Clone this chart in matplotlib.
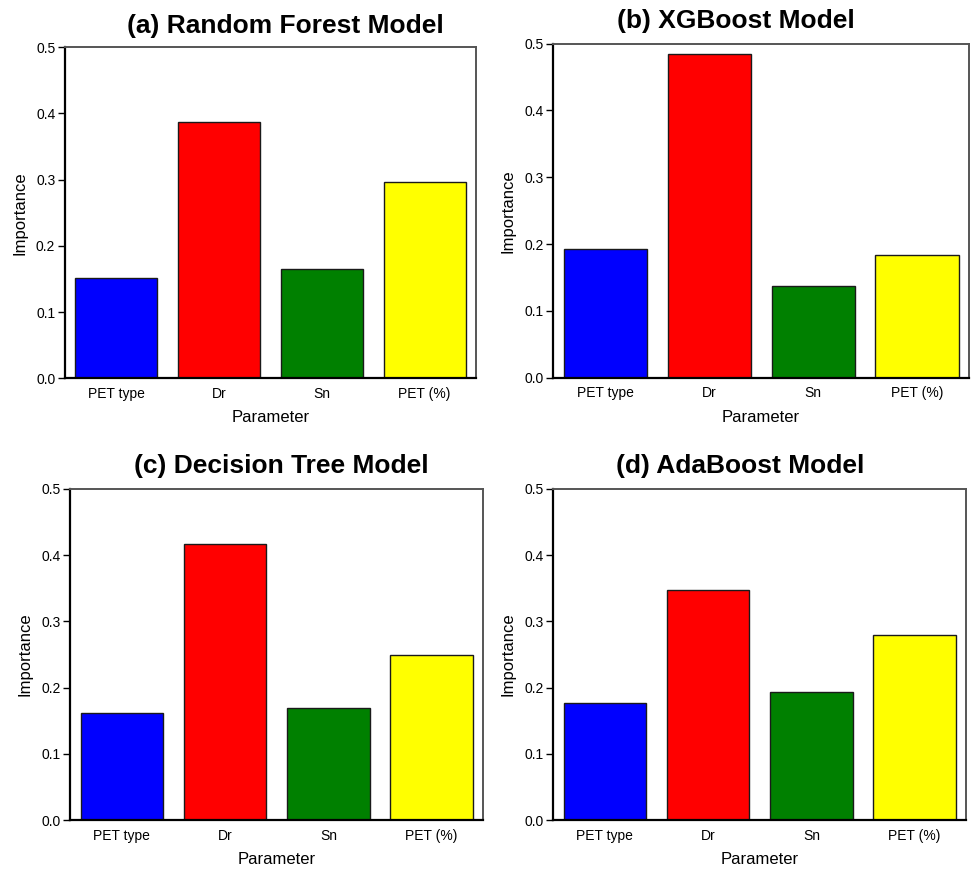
import matplotlib
matplotlib.use("Agg")
import matplotlib.pyplot as plt

plt.rcParams['font.family'] = ['Liberation Sans', 'DejaVu Sans']

categories = ["PET type", "Dr", "Sn", "PET (%)"]
colors = ["#0000ff", "#ff0000", "#008000", "#ffff00"]

rf_values = [0.151, 0.387, 0.165, 0.296]
xgb_values = [0.192, 0.484, 0.138, 0.183]
dt_values = [0.162, 0.417, 0.169, 0.249]
ada_values = [0.177, 0.348, 0.193, 0.279]

titles = ["(a) Random Forest Model", "(b) XGBoost Model",
          "(c) Decision Tree Model", "(d) AdaBoost Model"]
yticks = [0.0, 0.1, 0.2, 0.3, 0.4, 0.5]

W, H = 971, 872
fig = plt.figure(figsize=(W / 100, H / 100), dpi=100)

# axes boxes in pixels: left, right, top, bottom
boxes = [(65, 476, 47.3, 378.3),
         (553.3, 969, 43.7, 377.7),
         (70.3, 483.3, 488.7, 820.3),
         (553.3, 966.3, 488.7, 820.3)]
title_x = [0.537, 0.44, 0.512, 0.453]
title_pad = [10.5, 11.5, 11.5, 11]

data = [rf_values, xgb_values, dt_values, ada_values]

for i, (vals, box) in enumerate(zip(data, boxes)):
    l, r, t, b = box
    ax = fig.add_axes([l / W, 1 - b / H, (r - l) / W, (b - t) / H])
    x = list(range(len(categories)))
    ax.bar(x, vals, width=0.8, color=colors, edgecolor="#1a1a1a", linewidth=1.0, zorder=2)
    ax.set_xlim(-0.5, 3.5)
    ax.set_ylim(0, 0.5)
    ax.set_yticks(yticks)
    ax.set_yticklabels([f"{v:.1f}" for v in yticks])
    ax.set_xticks(x)
    ax.set_xticklabels(categories)
    ax.tick_params(axis='y', direction='out', length=5, width=1, labelsize=10, pad=2, colors='black')
    ax.tick_params(axis='x', length=0, labelsize=10, pad=6)
    for s in ['left', 'bottom']:
        ax.spines[s].set_color('black')
        ax.spines[s].set_linewidth(1.6)
    for s in ['top', 'right']:
        ax.spines[s].set_color('#555555')
        ax.spines[s].set_linewidth(1.4)
    ax.set_xlabel("Parameter", fontsize=12, labelpad=7)
    ax.set_ylabel("Importance", fontsize=12, labelpad=6)
    ax.set_title(titles[i], fontsize=19, fontweight='bold', x=title_x[i], pad=title_pad[i])

fig.savefig("out.png", dpi=100)
